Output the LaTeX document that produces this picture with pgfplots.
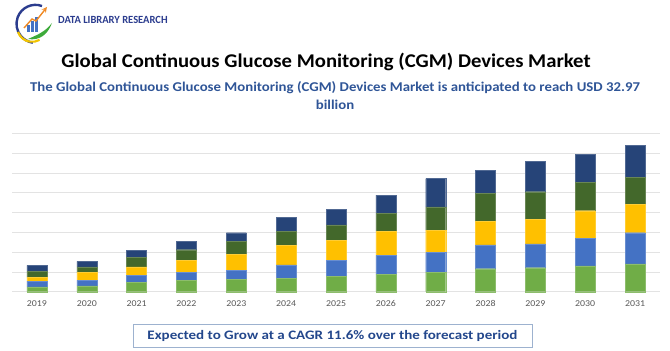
\documentclass[border=0pt]{standalone}
\usepackage{fontspec}
\setmainfont{Carlito}
\usepackage{pgfplots}
\pgfplotsset{compat=1.18}
\definecolor{cgreen}{HTML}{70AD47}
\definecolor{cblue}{HTML}{4472C4}
\definecolor{cyellow}{HTML}{FFC000}
\definecolor{cdkgreen}{HTML}{43682B}
\definecolor{cnavy}{HTML}{264478}
\definecolor{gridgray}{HTML}{E3E3E3}
\definecolor{ticktext}{HTML}{595959}
\definecolor{subblue}{HTML}{2F5597}
\definecolor{boxblue}{HTML}{23478C}
\definecolor{boxborder}{HTML}{9DB2CF}
\definecolor{logonavy}{HTML}{2B3C8E}
\definecolor{logoorange}{HTML}{F08A24}
\definecolor{logoyellow}{HTML}{F2C500}
\definecolor{logogreen}{HTML}{3DAA3A}
\begin{document}
\begin{tikzpicture}[x=1bp,y=1bp]
\path (0,0) rectangle (670,350);
% logo emblem
\draw[logonavy,line width=2.4bp] (42,344) arc[start angle=70,end angle=262,radius=19];
\draw[logoyellow,line width=2.2bp] (18,318) arc[start angle=200,end angle=300,radius=15];
\fill[logogreen] (28,311) .. controls (40,309) and (48,316) .. (52,327) .. controls (45,318) and (37,315) .. (28,311) -- cycle;
\fill[cblue] (27,318) rectangle (30,325);
\fill[cblue] (31,318) rectangle (34,329);
\fill[cblue] (35,318) rectangle (38,333);
\draw[logoorange,line width=1.4bp,->,>=stealth] (24,322) -- (32,331) -- (36,329) -- (47,343);
\node[anchor=west,font=\bfseries\fontsize{11}{12}\selectfont,text=logonavy,inner sep=0,xscale=0.96] at (58,330) {DATA LIBRARY RESEARCH};
% titles
\node[font=\bfseries\fontsize{19.5}{21}\selectfont,inner sep=0,xscale=1.065] at (326,62-0) [yshift=226bp] {Global Continuous Glucose Monitoring (CGM) Devices Market};
\node[font=\bfseries\fontsize{13.5}{15}\selectfont,text=subblue,inner sep=0,xscale=1.1] at (335,262) {The Global Continuous Glucose Monitoring (CGM) Devices Market is anticipated to reach USD 32.97};
\node[font=\bfseries\fontsize{13.5}{15}\selectfont,text=subblue,inner sep=0,xscale=1.1] at (335,245) {billion};
% bottom box
\draw[boxborder,line width=0.8bp] (133,3) rectangle (532,26);
\node[font=\bfseries\fontsize{13}{15}\selectfont,text=boxblue,inner sep=0,xscale=1.16] at (332.5,14.5) {Expected to Grow at a CAGR 11.6\% over the forecast period};
\begin{axis}[
  at={(12bp,58.3bp)}, anchor=south west,
  scale only axis, width=648bp, height=158.4bp,
  ybar stacked, bar width=20bp,
  xmin=-0.5, xmax=12.5, ymin=0, ymax=8,
  xtick={0,...,12},
  xticklabels={2019,2020,2021,2022,2023,2024,2025,2026,2027,2028,2029,2030,2031},
  x tick label style={font=\fontsize{9}{10}\selectfont,text=ticktext,yshift=-5bp,xscale=1.1},
  ytick={0,...,8}, yticklabels={},
  ymajorgrids, grid style={gridgray,line width=0.8bp},
  axis line style={draw=none},
  major tick length=0pt,
  clip=false,
]
\addplot[fill=cgreen,draw=cgreen!80!white] coordinates {(0,0.25)(1,0.30)(2,0.49)(3,0.56)(4,0.64)(5,0.69)(6,0.79)(7,0.89)(8,0.99)(9,1.16)(10,1.21)(11,1.30)(12,1.41)};
\addplot[fill=cblue,draw=cblue!80!white] coordinates {(0,0.29)(1,0.27)(2,0.35)(3,0.40)(4,0.44)(5,0.67)(6,0.78)(7,0.95)(8,0.98)(9,1.20)(10,1.20)(11,1.38)(12,1.57)};
\addplot[fill=cyellow,draw=cyellow!80!white] coordinates {(0,0.20)(1,0.39)(2,0.42)(3,0.62)(4,0.81)(5,0.98)(6,1.01)(7,1.21)(8,1.14)(9,1.21)(10,1.26)(11,1.41)(12,1.43)};
\addplot[fill=cdkgreen,draw=cdkgreen!80!white] coordinates {(0,0.30)(1,0.29)(2,0.49)(3,0.54)(4,0.67)(5,0.72)(6,0.80)(7,0.89)(8,1.17)(9,1.38)(10,1.38)(11,1.42)(12,1.38)};
\addplot[fill=cnavy,draw=cnavy!80!white] coordinates {(0,0.29)(1,0.28)(2,0.34)(3,0.44)(4,0.42)(5,0.68)(6,0.78)(7,0.94)(8,1.43)(9,1.18)(10,1.55)(11,1.41)(12,1.60)};
\end{axis}
\end{tikzpicture}
\end{document}
